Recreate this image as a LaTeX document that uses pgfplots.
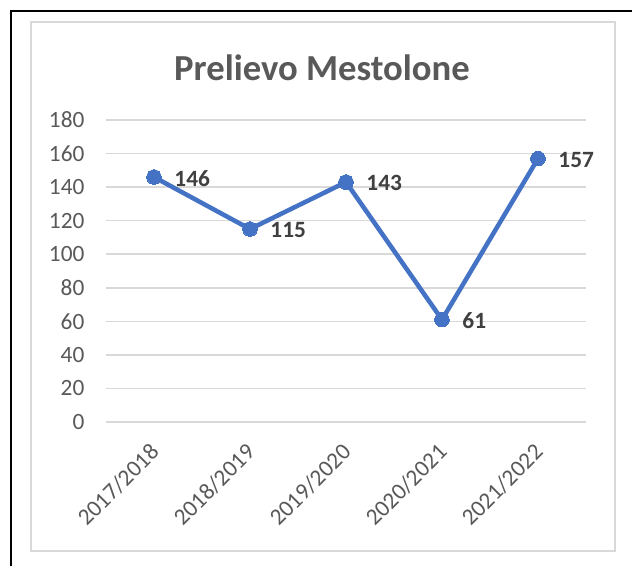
\documentclass[border=0pt]{standalone}
\usepackage{pgfplots}
\pgfplotsset{compat=1.18}
\usepackage{fontspec}
\setmainfont{Carlito}
\definecolor{linec}{HTML}{4472C4}
\definecolor{gridc}{HTML}{D9D9D9}
\definecolor{tickc}{HTML}{595959}
\definecolor{labc}{HTML}{404040}
\begin{document}
\begin{tikzpicture}
% picture frame: 632x565 px, 1px = 0.75pt
\clip (0,0) rectangle (474pt,423.75pt);
\path[use as bounding box] (0,0) rectangle (474pt,423.75pt);
\fill[white] (0,0) rectangle (474pt,423.75pt);
\draw[black, line width=1.7pt] (8pt,-5pt) -- (8pt,415.5pt) -- (480pt,415.5pt);
\draw[gridc, line width=1.5pt] (23.25pt,10.5pt) rectangle (461.25pt,407.25pt);
\node[font=\fontsize{27.5}{33}\selectfont\bfseries, text=tickc] at (241.5pt,372.75pt) {Prelievo Mestolone};

\begin{axis}[
  at={(79.5pt,107.25pt)}, anchor=south west,
  scale only axis, width=360pt, height=226.5pt,
  xmin=-0.5, xmax=4.5, ymin=0, ymax=180,
  axis line style={draw=none},
  /pgf/number format/assume math mode=true,
  xtick={0,1,2,3,4},
  xticklabels={2017/2018,2018/2019,2019/2020,2020/2021,2021/2022},
  ytick={0,20,...,180},
  major tick length=0pt,
  ymajorgrids, grid style={gridc, line width=1.1pt},
  tick label style={font=\fontsize{17.5}{21}\selectfont, text=tickc},
  yticklabel style={anchor=east, inner sep=0pt, xshift=-16pt},
  xticklabel style={xshift=0.75pt, yshift=-19.5pt, rotate=45, anchor=east, inner sep=0pt},
  clip=false,
  nodes near coords,
  every node near coord/.append style={anchor=west, xshift=12pt, yshift=-1pt,
    font=\fontsize{17.5}{21}\selectfont\bfseries, text=labc},
]
\addplot[linec, line width=3.4pt, mark=*, mark size=5.5pt, mark options={fill=linec, draw=linec, line width=0pt}]
  coordinates {(0,146) (1,115) (2,143) (3,61) (4,157)};
\end{axis}
\end{tikzpicture}
\end{document}
